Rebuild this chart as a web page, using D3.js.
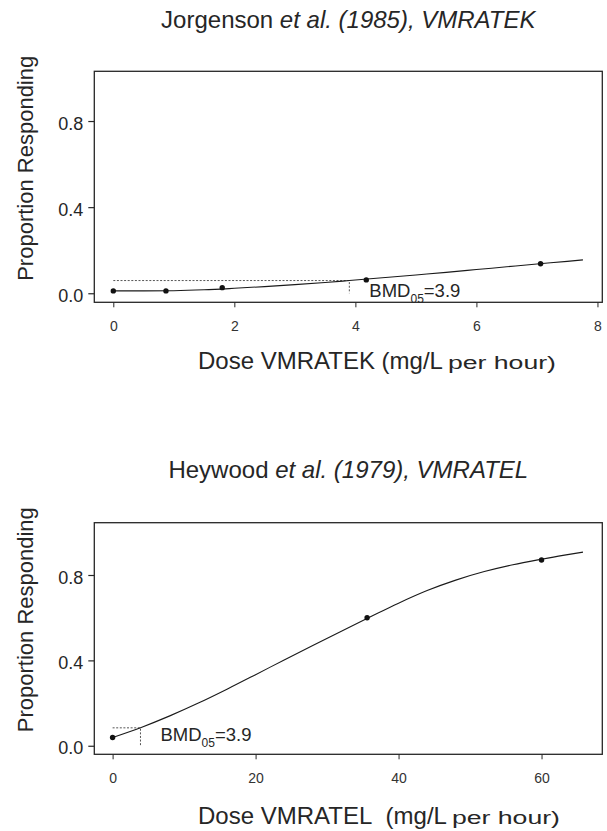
<!DOCTYPE html>
<html>
<head>
<meta charset="utf-8">
<script src="https://cdn.jsdelivr.net/npm/d3@7"></script>
<style>
  body { margin: 0; background: #fff; }
  svg { display: block; font-family: "Liberation Sans", Arial, sans-serif; }
</style>
</head>
<body>
<script>
const svgWidth = 607
const svgHeight = 831

// panel text
const titleLead = ["Jorgenson ", "Heywood "]
const titleRest = ["et al. (1985), VMRATEK", "et al. (1979), VMRATEL"]
const xTitleMain = ["Dose VMRATEK (mg/L", "Dose VMRATEL\u00a0 (mg/L"]
const xTitleUnit = "per hour)"
const yTitle = "Proportion Responding"

// ticks
const xTicksK = [0, 2, 4, 6, 8]
const xTicksL = [0, 20, 40, 60]
const yTicks = [0, 0.4, 0.8]

// observed points
const doseK = [0, 0.87, 1.8, 4.18, 7.06]
const respK = [0.011, 0.011, 0.026, 0.062, 0.137]
const doseL = [0, 35.6, 60]
const respL = [0.039, 0.60, 0.87]

// fitted curves
const fitDoseK = [0, 0.5, 1.0, 1.5, 2.0, 2.5, 3.0, 3.5, 3.9, 4.5, 5.0, 5.5, 6.0, 6.5, 7.0, 7.5, 7.76]
const fitRespK = [0.011, 0.011, 0.012, 0.016, 0.023, 0.031, 0.040, 0.050, 0.059, 0.073, 0.085, 0.097, 0.110, 0.123, 0.136, 0.148, 0.155]
const fitDoseL = [0, 4, 8, 12, 16, 20, 24, 28, 32, 36, 40, 44, 48, 52, 56, 60, 63, 65.8]
const fitRespL = [0.039, 0.086, 0.140, 0.200, 0.265, 0.333, 0.402, 0.470, 0.537, 0.603, 0.668, 0.727, 0.776, 0.816, 0.848, 0.874, 0.892, 0.907]

// benchmark dose and response level
const bmd = [3.9, 3.9]
const bmr = [0.059, 0.084]
const bmdText = ["3.9", "3.9"]

const panels = [
    { top: 71.3, bottom: 302.3, xDomain: [-0.314, 8.08], yDomain: [-0.042, 1.031],
      xTicks: xTicksK, dose: doseK, resp: respK, fitDose: fitDoseK, fitResp: fitRespK,
      titleY: 27.5, xTitleY: 369, bmdLabelDy: 16 },
    { top: 522.7, bottom: 754.3, xDomain: [-2.56, 68.5], yDomain: [-0.040, 1.045],
      xTicks: xTicksL, dose: doseL, resp: respL, fitDose: fitDoseL, fitResp: fitRespL,
      titleY: 477.5, xTitleY: 824, bmdLabelDy: 13 }
]

const frameLeft = 94.3
const frameRight = 602.3
const ink = "#262626"

const svg = d3.select("body").append("svg")
    .attr("width", svgWidth)
    .attr("height", svgHeight)

panels.forEach((p, i) => {
    const x = d3.scaleLinear().domain(p.xDomain).range([frameLeft, frameRight])
    const y = d3.scaleLinear().domain(p.yDomain).range([p.bottom, p.top])
    const g = svg.append("g")

    // title
    const title = g.append("text")
        .attr("x", (frameLeft + frameRight) / 2)
        .attr("y", p.titleY)
        .attr("text-anchor", "middle")
        .attr("font-size", 24)
        .attr("fill", ink)
    title.append("tspan").text(titleLead[i])
    title.append("tspan").attr("font-style", "italic").text(titleRest[i])

    // axes
    const yAxis = d3.axisLeft(y).tickValues(yTicks).tickFormat(d3.format(".1f"))
        .tickSize(6).tickPadding(5)
    g.append("g")
        .attr("transform", `translate(${frameLeft},0)`)
        .call(yAxis)
        .call(a => a.select(".domain").remove())
        .call(a => a.selectAll("line").attr("stroke", ink).attr("stroke-width", 1.2))
        .call(a => a.selectAll("text").attr("font-size", 18).attr("fill", ink)
            .attr("font-family", "Liberation Sans, Arial, sans-serif").attr("dy", "0.45em"))

    const xAxis = d3.axisBottom(x).tickValues(p.xTicks).tickFormat(d3.format("d"))
        .tickSize(5).tickPadding(14)
    g.append("g")
        .attr("transform", `translate(0,${p.bottom})`)
        .call(xAxis)
        .call(a => a.select(".domain").remove())
        .call(a => a.selectAll("line").attr("stroke", ink).attr("stroke-width", 1))
        .call(a => a.selectAll("text").attr("font-size", 14).attr("fill", "#333")
            .attr("font-family", "Liberation Sans, Arial, sans-serif"))

    // frame
    g.append("rect")
        .attr("x", frameLeft)
        .attr("y", p.top)
        .attr("width", frameRight - frameLeft)
        .attr("height", p.bottom - p.top)
        .attr("fill", "none")
        .attr("stroke", ink)
        .attr("stroke-width", 1.3)

    // axis titles
    g.append("text")
        .attr("transform", `translate(33,${p.top + 97}) rotate(-90)`)
        .attr("text-anchor", "middle")
        .attr("font-size", 22)
        .attr("fill", ink)
        .text(yTitle)

    const xt = g.append("text")
        .attr("x", 198)
        .attr("y", p.xTitleY)
        .attr("font-size", 24)
        .attr("fill", ink)
    xt.append("tspan").text(xTitleMain[i])
    xt.append("tspan").attr("dx", 5).attr("font-size", 18)
        .attr("textLength", 108).attr("lengthAdjust", "spacingAndGlyphs")
        .text(xTitleUnit)

    // benchmark dose guide lines
    g.append("path")
        .attr("d", d3.line()([[x(0), y(bmr[i])], [x(bmd[i]), y(bmr[i])], [x(bmd[i]), y(0)]]))
        .attr("fill", "none")
        .attr("stroke", "#555")
        .attr("stroke-width", 1)
        .attr("stroke-dasharray", "2,1.6")

    // fitted curve
    const fit = p.fitDose.map((d, k) => [d, p.fitResp[k]])
    const line = d3.line().x(d => x(d[0])).y(d => y(d[1])).curve(d3.curveMonotoneX)
    g.append("path")
        .attr("d", line(fit))
        .attr("fill", "none")
        .attr("stroke", "#1a1a1a")
        .attr("stroke-width", 1.1)

    // observed points
    g.selectAll("circle.obs")
        .data(p.dose.map((d, k) => [d, p.resp[k]]))
        .join("circle")
        .attr("class", "obs")
        .attr("cx", d => x(d[0]))
        .attr("cy", d => y(d[1]))
        .attr("r", 2.7)
        .attr("fill", "#111")

    // BMD label
    const lab = g.append("text")
        .attr("x", x(bmd[i]) + 20)
        .attr("y", y(bmr[i]) + p.bmdLabelDy)
        .attr("font-size", 18.5)
        .attr("fill", ink)
    lab.append("tspan").text("BMD")
    lab.append("tspan").attr("font-size", 12).attr("dy", 6).text("05")
    lab.append("tspan").attr("dy", -6).text("=" + bmdText[i])
})
</script>
</body>
</html>
